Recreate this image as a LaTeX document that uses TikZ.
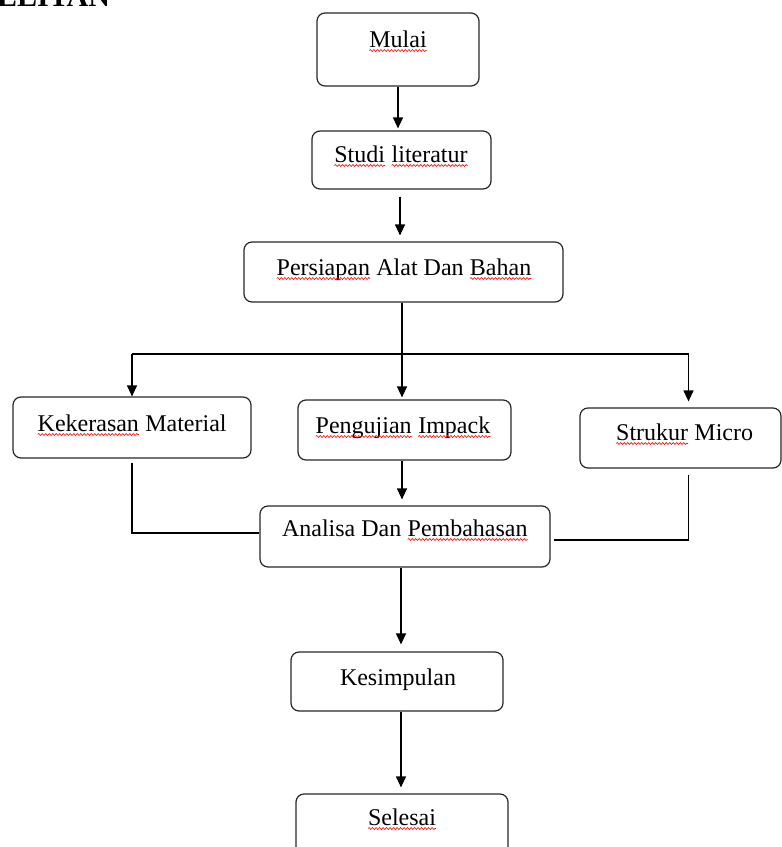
\documentclass[tikz,border=0pt]{standalone}
\usepackage{fontspec}
\setmainfont{Liberation Serif}
\usetikzlibrary{arrows.meta,decorations.pathmorphing}
\newcommand\redwave[1]{\tikz[baseline=(wavew.base)]{\node[inner sep=0pt, outer sep=0pt] (wavew) {#1}; \draw[red, line width=0.6pt, decorate, decoration={snake, amplitude=1pt, segment length=3.5pt}] ([yshift=-3.5pt]wavew.base west) -- ([yshift=-3.5pt]wavew.base east);}}
\tikzset{
  box/.style={draw=black!85, line width=1.2pt, rounded corners=8pt, inner sep=0pt},
  lbl/.style={anchor=base, inner sep=0pt, font=\fontsize{24}{28}\selectfont},
  conn/.style={draw=black, line width=1.2pt},
  arr/.style={conn, -{Triangle[width=10pt,length=11pt]}}
}
\begin{document}
\begin{tikzpicture}[x=1pt,y=-1pt]
\useasboundingbox (0,0) rectangle (782,847);
\clip (0,0) rectangle (782,847);
% heading (clipped at the top, as in the reference)
\node[anchor=base west, inner sep=0pt, font=\bfseries\fontsize{30}{34}\selectfont] (judul) at (-3,6) {ELITAN};
% boxes
\node[box, minimum width=162pt, minimum height=73pt] (mulai) at (398,49.5) {};
\node[box, minimum width=179pt, minimum height=58pt] (studi) at (401.5,160) {};
\node[box, minimum width=319pt, minimum height=60pt] (persiapan) at (403.5,272) {};
\node[box, minimum width=238pt, minimum height=61pt] (kekerasan) at (132,427.5) {};
\node[box, minimum width=213pt, minimum height=60pt] (pengujian) at (404.5,430) {};
\node[box, minimum width=201pt, minimum height=60pt] (struktur) at (680.5,438) {};
\node[box, minimum width=290pt, minimum height=61pt] (analisa) at (405,536.5) {};
\node[box, minimum width=212pt, minimum height=59pt] (kesimpulan) at (397,681.5) {};
\node[box, minimum width=212pt, minimum height=72pt] (selesai) at (402,830) {};
% labels
\node[lbl] (tmulai) at (398,47) {\redwave{Mulai}};
\node[lbl] (tstudi) at (401,162) {\redwave{Studi} \redwave{literatur}};
\node[lbl] (tpersiapan) at (404,275) {\redwave{Persiapan} Alat Dan \redwave{Bahan}};
\node[lbl] (tkekerasan) at (132,431) {\redwave{Kekerasan} Material};
\node[lbl] (tpengujian) at (403,433) {\redwave{Pengujian} \redwave{Impack}};
\node[lbl] (tstruktur) at (684.5,440) {\redwave{Strukur} Micro};
\node[lbl] (tanalisa) at (405,536) {Analisa Dan \redwave{Pembahasan}};
\node[lbl] (tkesimpulan) at (398,685) {Kesimpulan};
\node[lbl] (tselesai) at (402,825) {\redwave{Selesai}};
% connectors
\coordinate (split) at (402,354);
\draw[arr, shorten >=2pt] (mulai.south) -- (mulai.south |- studi.north);
\draw[arr, shorten <=7pt, shorten >=6pt] ([xshift=-1.5pt]studi.south) -- ([xshift=-1.5pt]studi.south |- persiapan.north);
\draw[conn] ([xshift=-1.5pt]persiapan.south) -- (split);
\draw[conn] (split) -- (split -| kekerasan.north) ;
\draw[conn] (split) -- ([xshift=8pt]split -| struktur.north);
\draw[arr] (split -| kekerasan.north) -- (kekerasan.north);
\draw[arr, shorten >=2pt] (split) -- (split |- pengujian.north);
\draw[arr, shorten >=6pt] ([xshift=8pt]split -| struktur.north) -- ([xshift=8pt]struktur.north);
\draw[conn, shorten <=4pt] (kekerasan.south) |- ([yshift=3.5pt]analisa.west);
\draw[arr, shorten >=6pt] ([xshift=-2.5pt]pengujian.south) -- ([xshift=-2.5pt]pengujian.south |- analisa.north);
\draw[conn, shorten <=6pt] ([xshift=8pt]struktur.south) |- ([yshift=-3.5pt,xshift=3pt]analisa.east);
\draw[arr, shorten >=7pt] ([xshift=-4pt]analisa.south) -- ([xshift=-4pt]analisa.south |- kesimpulan.north);
\draw[arr, shorten >=6pt] ([xshift=4pt]kesimpulan.south) -- ([xshift=4pt]kesimpulan.south |- selesai.north);
\end{tikzpicture}
\end{document}
